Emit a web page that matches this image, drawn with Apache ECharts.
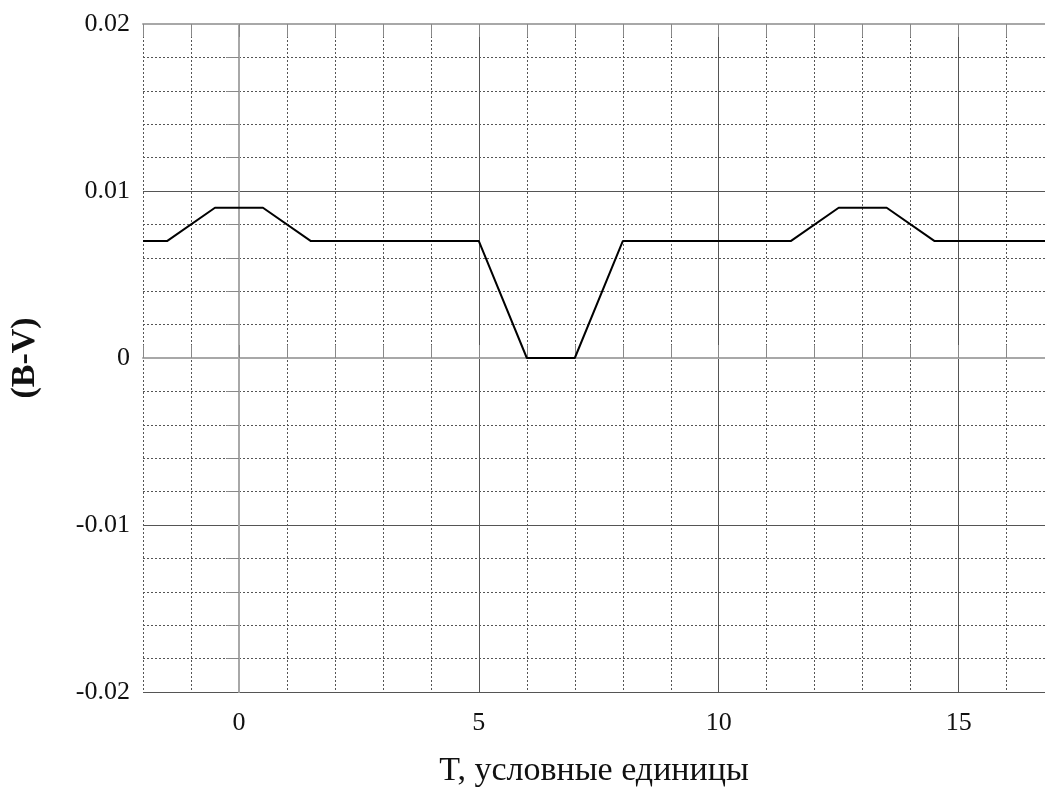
<!DOCTYPE html>
<html lang="ru">
<head>
    <meta charset="UTF-8">
    <title>B-V</title>
    <script src="https://cdn.jsdelivr.net/npm/echarts@6.0.0/dist/echarts.min.js"></script>
    <style>
        html, body { margin: 0; padding: 0; background: #fff; }
        #chart { width: 1045px; height: 789px; }
    </style>
</head>
<body>
    <div id="chart"></div>
    <script>
        // данные
        const tValues = [-2, -1.5, -0.5, 0.5, 1.5, 5, 6, 7, 8, 11.5, 12.5, 13.5, 14.5, 17];
        const bvValues = [0.007, 0.007, 0.009, 0.009, 0.007, 0.007, 0, 0, 0.007, 0.007, 0.009, 0.009, 0.007, 0.007];
        const xLabels = [0, 5, 10, 15];

        const serif = 'Liberation Serif';
        const chart = echarts.init(document.getElementById('chart'));

        const frame = { show: true, lineStyle: { color: '#a8a8a8', width: 2 } };
        const tick = { show: true, inside: true, length: 13, lineStyle: { color: '#888', width: 1 } };
        const none = 'rgba(0,0,0,0)';

        chart.setOption({
            animation: false,
            grid: { left: 143, top: 24, right: 0, bottom: 97, outerBoundsMode: 'none' },
            xAxis: [{
                type: 'value', min: -2, max: 16.8, interval: 1, position: 'bottom',
                axisLine: frame, axisTick: tick,
                axisLabel: {
                    margin: 18, color: '#111', fontFamily: serif, fontSize: 26,
                    formatter: v => xLabels.includes(v) ? String(v) : ''
                },
                splitLine: { show: true, lineStyle: { color: '#555', width: 1, type: [2, 2] } },
                name: 'T, условные единицы', nameLocation: 'middle', nameGap: 62,
                nameTextStyle: { fontFamily: serif, fontSize: 34, color: '#111' }
            }, {
                // сплошные линии через 5 единиц
                type: 'value', min: -2, max: 16.8, interval: 1, position: 'top',
                axisLine: frame, axisTick: tick, axisLabel: { show: false },
                splitLine: {
                    show: true,
                    lineStyle: { color: [none, none, '#555', none, none], width: 1 }
                }
            }],
            yAxis: {
                type: 'value', min: -0.02, max: 0.02, interval: 0.01,
                axisLine: frame, axisTick: { show: false },
                minorTick: { show: true, splitNumber: 5, length: 13, lineStyle: { color: '#888' } },
                axisLabel: {
                    margin: 13, color: '#111', fontFamily: serif, fontSize: 26,
                    formatter: v => Math.abs(v) < 1e-9 ? '0' : v.toFixed(2)
                },
                splitLine: { show: true, lineStyle: { color: '#555', width: 1 } },
                minorSplitLine: { show: true, lineStyle: { color: '#555', width: 1, type: [2, 2] } },
                name: '(B-V)', nameLocation: 'middle', nameGap: 101, nameRotate: 90,
                nameTextStyle: { fontFamily: serif, fontSize: 34, color: '#111', fontWeight: 'bold' }
            },
            series: [{
                type: 'line',
                data: tValues.map((t, i) => [t, bvValues[i]]),
                showSymbol: false,
                lineStyle: { color: '#000', width: 2 },
                z: 5
            }]
        });
    </script>
</body>
</html>
